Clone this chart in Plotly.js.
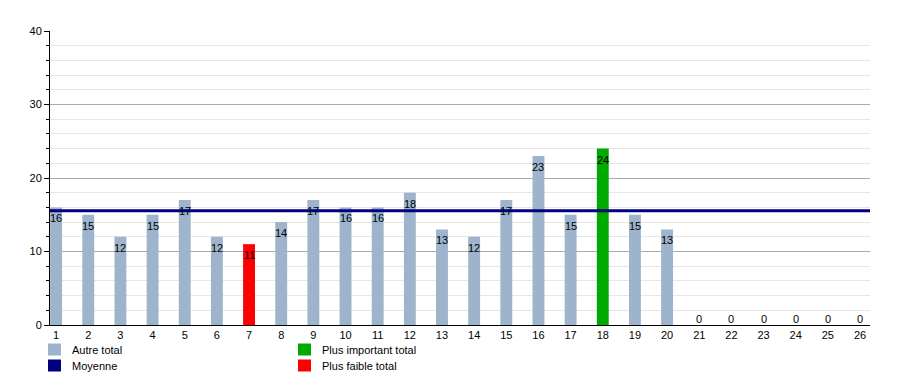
<!DOCTYPE html>
<html><head><meta charset="utf-8">
<script src="https://cdn.plot.ly/plotly-3.0.1.min.js"></script>
<style>body{margin:0}#c{width:900px;height:375px}</style>
</head><body><div id="c"></div>
<script>
const categories = [1,2,3,4,5,6,7,8,9,10,11,12,13,14,15,16,17,18,19,20,21,22,23,24,25,26];
const values = [16,15,12,15,17,12,11,14,17,16,16,18,13,12,17,23,15,24,15,13,0,0,0,0,0,0];
const maxCategory = 18;
const minCategory = 7;
const seriesNames = ['Autre total','Moyenne','Plus important total','Plus faible total'];
const colors = {other:'#9db4cc', mean:'#000080', max:'#00aa00', min:'#ff0000'};

const played = values.slice(0,20);
const mean = played.reduce((a,b)=>a+b,0)/played.length;

const barColors = categories.map(c => c===maxCategory?colors.max:(c===minCategory?colors.min:colors.other));

const traces = [
  {type:'bar', x:categories, y:values, marker:{color:barColors}, width:0.37, showlegend:false, hoverinfo:'x+y'}
];

const annotations = categories.map((c,i)=>({
  x:c, y:values[i], xref:'x', yref:'y', text:String(values[i]), showarrow:false,
  yanchor: values[i]===0?'bottom':'top', yshift: values[i]===0?-2:-3,
  font:{size:11, color:'#000'}
}));

// custom legend (plot area: x 50..870 px, y 31..325 px)
const L = 50, W = 820, B = 325, H = 294;
const px = v => (v - L) / W;
const py = v => (B - v) / H;
const legendItems = [
  {name:seriesNames[0], color:colors.other, x:48, y:349.5},
  {name:seriesNames[1], color:colors.mean, x:48, y:365.5},
  {name:seriesNames[2], color:colors.max, x:298, y:349.5},
  {name:seriesNames[3], color:colors.min, x:298, y:365.5}
];
const shapes = [{type:'line', xref:'paper', x0:0, x1:1, yref:'y', y0:mean, y1:mean, line:{color:colors.mean, width:3}}];
legendItems.forEach(it => {
  shapes.push({type:'rect', xref:'paper', yref:'paper', x0:px(it.x), x1:px(it.x+13), y0:py(it.y-6), y1:py(it.y+6),
    fillcolor:it.color, line:{width:0}});
  annotations.push({xref:'paper', yref:'paper', x:px(it.x+22), y:py(it.y), xanchor:'left', yanchor:'middle',
    text:it.name, showarrow:false, font:{size:11, color:'#000'}});
});

const layout = {
  width:900, height:375,
  margin:{l:50, r:30, t:31, b:50},
  paper_bgcolor:'#fff', plot_bgcolor:'#fff',
  font:{family:'Liberation Sans, Arial, sans-serif', size:11, color:'#000'},
  showlegend:false,
  xaxis:{range:[0.81,26.31], tickvals:categories, ticktext:categories.map(String), showgrid:false, zeroline:false,
    showline:true, linecolor:'#000', linewidth:1, ticks:'', ticklen:0, tickfont:{size:11}},
  yaxis:{range:[0,40], dtick:10, showline:true, linecolor:'#000', linewidth:1, ticks:'outside', ticklen:5, tickcolor:'#000',
    gridcolor:'#aaaaaa', zeroline:false, tickfont:{size:11},
    minor:{dtick:2, ticks:'outside', ticklen:3, tickcolor:'#000', showgrid:true, gridcolor:'#e6e6e6'}},
  shapes:shapes,
  annotations:annotations,
  hovermode:'closest'
};
Plotly.newPlot('c', traces, layout, {displayModeBar:false, staticPlot:true});
</script></body></html>
